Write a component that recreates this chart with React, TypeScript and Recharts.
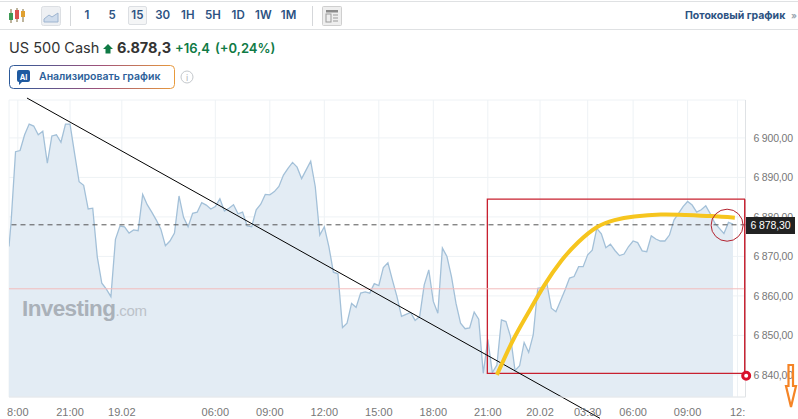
import React from "react";
import { ComposedChart, Area, Line, XAxis, YAxis, CartesianGrid, ReferenceLine, ReferenceArea, ReferenceDot } from "recharts";

const priceValues = [
  6872.5, 6878.4, 6896.5, 6896.8, 6900.8, 6903.5, 6903.0, 6900.8, 6901.7, 6893.6, 6900.5, 6900.8, 6898.9, 6903.5, 6903.5, 6896.1,
  6888.9, 6888.0, 6882.0, 6882.2, 6869.9, 6863.2, 6861.7, 6859.8, 6874.3, 6877.7, 6877.5, 6875.9, 6876.7, 6876.5, 6885.7, 6883.1,
  6881.2, 6879.2, 6876.9, 6872.7, 6873.9, 6875.9, 6885.3, 6879.9, 6877.5, 6880.9, 6881.2, 6883.6, 6883.0, 6882.0, 6882.6, 6884.6,
  6881.5, 6882.2, 6883.1, 6880.8, 6881.2, 6877.7, 6877.5, 6881.8, 6883.2, 6885.7, 6885.6,
  6886.4, 6887.7, 6890.6, 6892.3, 6893.8, 6892.6, 6889.7, 6891.9, 6894.1, 6887.7, 6875.4, 6877.5, 6872.5, 6866.0, 6865.6, 6852.0,
  6853.1, 6858.1, 6857.1, 6860.7, 6861.0, 6860.7, 6863.1, 6862.6, 6867.2, 6868.4, 6864.0, 6859.8, 6854.8, 6855.3, 6855.8, 6853.8,
  6854.8, 6862.8, 6866.6, 6858.6, 6855.6, 6872.1, 6870.0, 6864.9, 6858.1, 6853.1, 6851.7, 6851.9, 6855.9, 6854.1, 6840.4, 6849.0,
  6840.6, 6842.5, 6853.9, 6853.5, 6849.7, 6841.1, 6842.3, 6848.2, 6845.7,
  6850.1, 6861.9, 6862.1, 6863.2, 6856.9, 6856.0, 6858.7, 6861.5, 6864.5, 6864.9, 6867.4, 6867.4, 6870.4, 6871.6, 6877.1, 6875.7,
  6872.2, 6873.1, 6871.5, 6870.2, 6870.6, 6872.5, 6873.9, 6873.5, 6871.4, 6871.2, 6875.2, 6874.4, 6873.9, 6873.9, 6875.4, 6879.2,
  6880.9, 6882.6, 6883.9, 6883.0, 6881.2, 6881.8, 6882.8, 6880.8, 6878.4, 6877.1, 6875.8, 6878.6, 6878.2,
];
const firstBar = -0.44;
const goldBars = [107, 110.6, 114.3, 117.5, 121.2, 124.9, 129, 132.9, 137.3, 143.1, 148.4, 154.2, 159.4];
const goldValues = [6840, 6848.9, 6856.5, 6862.8, 6868.9, 6873.6, 6877.4, 6879.2, 6880.1, 6880.6, 6880.5, 6880.2, 6879.8];
const xTickBars = [1.5, 13, 24.4, 45, 57, 69, 81, 93, 105, 116.5, 127, 137, 149, 160];
const xTickLabels = ["8:00", "21:00", "19.02", "06:00", "09:00", "12:00", "15:00", "18:00", "21:00", "20.02", "03:30", "06:00", "09:00", "12:"];
const yTicks = [6840, 6850, 6860, 6870, 6880, 6890, 6900];
const timeframes = ["1", "5", "15", "30", "1H", "5H", "1D", "1W", "1M"];

const priceRows = priceValues.map((price, i) => ({ bar: i === 0 ? firstBar : i - 1, price }));
const goldRows = goldBars.map((bar, i) => ({ bar, gold: goldValues[i] }));
const fmtY = (v: number) => `6\u00A0${String(v).slice(1)},00`;
const fmtX = (v: number) => xTickLabels[xTickBars.indexOf(v)] ?? "";

const abs = (left: number, top: number, extra: React.CSSProperties = {}): React.CSSProperties => ({
  position: "absolute", left, top, whiteSpace: "nowrap", ...extra,
});
const BLUE = "#2c5282";
const GREEN = "#0f7a45";
const FRAME = "#c8202f";

function Header() {
  return (
    <>
      <div style={abs(0, 1, { width: 798, height: 1, background: "#dfe1e3" })} />
      <div style={abs(0, 29, { width: 798, height: 1, background: "#dfe1e3" })} />
      <svg style={abs(8, 7)} width={18} height={18}>
        <line x1={3} y1={2} x2={3} y2={16} stroke="#7c6a3a" />
        <rect x={1} y={6} width={4} height={7} fill="#3d9a55" />
        <line x1={9} y1={1} x2={9} y2={15} stroke="#7c6a3a" />
        <rect x={7} y={3} width={4} height={9} fill="#d9534f" />
        <line x1={15} y1={2} x2={15} y2={15} stroke="#7c6a3a" />
        <rect x={13} y={4} width={4} height={6} fill="#e0a030" />
      </svg>
      <svg style={abs(41, 6)} width={20} height={20}>
        <rect x={0.5} y={0.5} width={19} height={19} rx={2} fill="#eef0f3" stroke="#dcdfe3" />
        <path d="M3 13 L8 9 L11 11 L17 7 L17 16 L3 16 Z" fill="#cfdcec" stroke="#9db4d0" />
      </svg>
      <div style={abs(70, 6, { width: 1, height: 20, background: "#d5d7da" })} />
      <div style={abs(128, 6, { width: 19, height: 19, border: "1px solid #dcdfe3", borderRadius: 2, boxSizing: "border-box", background: "#f4f5f6" })} />
      {timeframes.map((t, i) => (
        <div key={t} style={abs(77 + i * 25.2, 7, { width: 20, textAlign: "center", font: "600 11.5px Inter", lineHeight: "17px", color: BLUE })}>{t}</div>
      ))}
      <div style={abs(312, 6, { width: 1, height: 20, background: "#d5d7da" })} />
      <svg style={abs(322, 6)} width={20} height={20}>
        <rect x={0.5} y={0.5} width={19} height={19} rx={1} fill="#eeeeee" stroke="#cfcfcf" />
        <rect x={4} y={4} width={12} height={2.5} fill="#8a8a8a" />
        <rect x={4} y={8} width={5} height={8} fill="none" stroke="#9a9a9a" />
        <path d="M11 9H16M11 12H16M11 15H16" stroke="#9a9a9a" />
      </svg>
      <div style={abs(685, 8, { font: "700 10.5px Inter", lineHeight: "15px", color: BLUE })}>Потоковый график</div>
      <div style={abs(791, 8, { font: "700 9px Inter", lineHeight: "15px", color: "#9aa5b1" })}>»</div>

      <div style={abs(9, 39, { font: "400 14.5px Inter", lineHeight: "18px", color: "#333" })}>US 500 Cash</div>
      <svg style={abs(103, 43)} width={10} height={11}><path d="M5 1 L10 6 L7.5 6 L7.5 10.5 L2.5 10.5 L2.5 6 L0 6 Z" fill={GREEN} /></svg>
      <div style={abs(117, 39, { font: "700 14.5px Inter", lineHeight: "18px", color: "#333" })}>6.878,3</div>
      <div style={abs(175, 39, { font: "600 13px Inter", lineHeight: "18px", color: GREEN })}>+16,4</div>
      <div style={abs(215, 39, { font: "600 13px Inter", lineHeight: "18px", color: GREEN })}>(+0,24%)</div>

      <svg style={abs(9, 65)} width={166} height={24}>
        <defs>
          <linearGradient id="btn" x1="0" x2="1" y1="0" y2="0">
            <stop offset="0" stopColor="#2c5a9a" />
            <stop offset="0.55" stopColor="#a0527a" />
            <stop offset="1" stopColor="#e89a3c" />
          </linearGradient>
        </defs>
        <rect x={0.5} y={0.5} width={165} height={23} rx={4} fill="#fff" stroke="url(#btn)" />
        <path d="M10 5 H19 Q21 5 21 7 V15 Q21 17 19 17 H13 L10 20 V17 Q8 17 8 15 V7 Q8 5 10 5 Z" fill="#1f5aa0" />
        <text x={14.5} y={14.5} textAnchor="middle" fontFamily="Inter" fontWeight={700} fontSize={7.5} fill="#fff">AI</text>
      </svg>
      <div style={abs(39, 69, { font: "600 10.5px Inter", lineHeight: "15px", color: "#2c5f9a" })}>Анализировать график</div>
      <svg style={abs(180, 70)} width={14} height={14}>
        <circle cx={7} cy={7} r={6} fill="none" stroke="#c4c8cc" />
        <text x={7} y={10.5} textAnchor="middle" fontFamily="Inter" fontSize={9} fill="#b0b4b8">i</text>
      </svg>
    </>
  );
}

export default function App() {
  return (
    <div style={{ position: "fixed", left: 0, top: 0, width: 798, height: 419, background: "#fff", overflow: "hidden" }}>
      <Header />
      <div style={abs(0, 0)}>
        <ComposedChart width={798} height={419} data={priceRows} margin={{ top: 100, left: 9, right: 0, bottom: 0 }}>
          <CartesianGrid stroke="#eef2f5" strokeWidth={1} />
          <XAxis dataKey="bar" type="number" domain={[firstBar, 161.75]} ticks={xTickBars} interval={0} allowDataOverflow
            tickFormatter={fmtX} height={22} tickLine={false} tickMargin={5}
            axisLine={{ stroke: "#e6e8ea" }} tick={{ fill: "#777", fontSize: 11, fontFamily: "Liberation Sans" }} />
          <YAxis orientation="right" type="number" domain={[6834.4, 6909.6]} ticks={yTicks} interval={0} allowDataOverflow
            tickFormatter={fmtY} width={52.5} tickLine={false} tickMargin={2}
            axisLine={false} tick={{ fill: "#777", fontSize: 10.5, letterSpacing: -0.2, fontFamily: "Liberation Sans" }} />
          <ReferenceLine x={161.75} stroke="#dfe2e5" strokeWidth={1} />
          <Area dataKey="price" type="linear" stroke="#a3c0d8" strokeWidth={1.3} fill="#e3ecf4" fillOpacity={1} dot={false} activeDot={false} isAnimationActive={false} />
          <ReferenceLine y={6861.8} stroke="#f3bcbc" strokeWidth={1} />
          <ReferenceLine y={6878.0} stroke="#555" strokeWidth={1} strokeDasharray="5 4" />
          <ReferenceLine segment={[{ x: 3.52, y: 6910.1 }, { x: 129.7, y: 6829 }]} stroke="#000" strokeWidth={1} ifOverflow="visible" />
          <ReferenceArea x1={104.9} x2={161.6} y1={6840.4} y2={6884.5} fill="none" stroke={FRAME} strokeWidth={1.3} ifOverflow="visible" />
          <ReferenceLine segment={[{ x: 161.6, y: 6840.4 }, { x: 161.6, y: 6884.5 }]} stroke={FRAME} strokeWidth={1.3} ifOverflow="visible" />
          <Line data={goldRows} dataKey="gold" type="natural" stroke="#f6c51e" strokeWidth={4} dot={false} activeDot={false} isAnimationActive={false} />
          <ReferenceDot x={157.7} y={6877.9} r={16} fill="none" stroke="#b3222e" strokeWidth={1} ifOverflow="visible" />
          <ReferenceDot x={161.9} y={6839.8} r={3.5} fill="#fff" stroke="#d8102a" strokeWidth={3} ifOverflow="visible" />
        </ComposedChart>
      </div>
      <div style={abs(22, 296, { font: "700 22.5px 'Liberation Sans'", lineHeight: "26px", letterSpacing: -0.6, color: "#aab1b9" })}>
        Investing<span style={{ font: "400 15px 'Liberation Sans'", letterSpacing: -0.3, color: "#bcc2c9" }}>.com</span>
      </div>
      <div style={abs(746, 217, { width: 49, height: 17, background: "#222", color: "#fff", font: "10.5px 'Liberation Sans'", letterSpacing: -0.1, lineHeight: "17px", textAlign: "center" })}>6 878,30</div>
      <svg style={abs(783, 362)} width={15} height={48}>
        <path d="M5.5 3 H10 V24 H13 L8 45 L3 24 H5.5 Z" fill="none" stroke="#f58426" strokeWidth={2.2} />
      </svg>
    </div>
  );
}
